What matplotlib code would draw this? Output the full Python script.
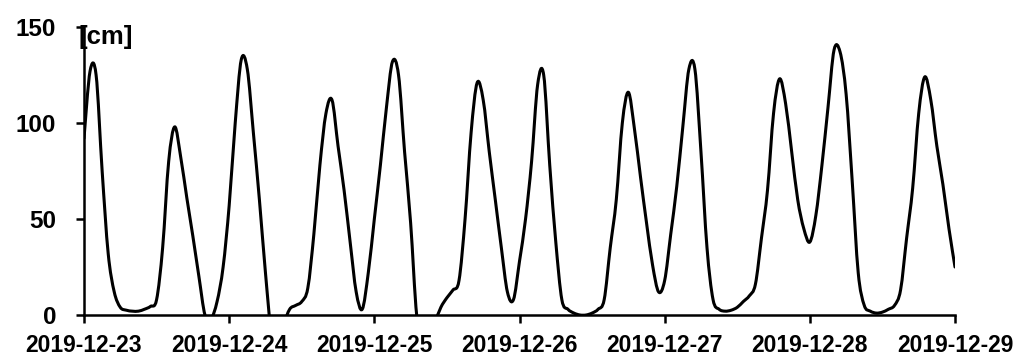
import datetime as dt

import matplotlib
matplotlib.use("Agg")
import matplotlib.dates as mdates
import matplotlib.pyplot as plt
import numpy as np
from matplotlib.patches import PathPatch
from matplotlib.path import Path

# hourly tide level [cm], 2019-12-23 00:00 .. 2019-12-29 00:00
start = dt.datetime(2019, 12, 23)
level_cm = [
    92, 127, 125, 75, 32, 12, 4, 2.5, 2, 2, 3, 4.5,
    8, 35, 80, 98, 82, 61, 41, 20, 0, -2, 7, 25,
    57, 100, 133, 128, 95, 60, 22, -10, -15, -5, 3, 5,
    7, 14, 42, 78, 105, 112, 88, 65, 38, 12, 3, 22,
    50, 78, 108, 132, 125, 85, 48, 0, -12, -12, -4, 4,
    9, 13, 18, 50, 95, 121, 112, 85, 60, 35, 12, 8,
    28, 50, 80, 120, 125, 78, 38, 8, 3, 1, 0, 0,
    1, 3, 8, 35, 60, 100, 116, 97, 72, 48, 26, 12,
    18, 42, 67, 98, 128, 128, 85, 35, 8, 3, 2, 2.5,
    4, 7, 10, 16, 40, 65, 105, 123, 110, 85, 60, 45,
    38, 52, 78, 108, 138, 137, 115, 70, 22, 5, 2, 1,
    1.5, 3, 5, 13, 40, 66, 105, 124, 112, 88, 68, 45,
    25,
]
times = [start + dt.timedelta(hours=h) for h in range(len(level_cm))]
day_ticks = [start + dt.timedelta(days=d) for d in range(7)]
y_ticks = [0, 50, 100, 150]
unit_label = "[cm]"


def smooth_path(x, y):
    """Bezier path through the points (same idea as a spreadsheet 'smoothed line')."""
    x = np.asarray(x, float)
    y = np.asarray(y, float)
    px = np.concatenate([[x[0]], x, [x[-1]]])
    py = np.concatenate([[y[0]], y, [y[-1]]])
    verts = [(x[0], y[0])]
    codes = [Path.MOVETO]
    for i in range(len(x) - 1):
        c1 = (x[i] + (px[i + 2] - px[i]) / 6, y[i] + (py[i + 2] - py[i]) / 6)
        c2 = (x[i + 1] - (px[i + 3] - px[i + 1]) / 6, y[i + 1] - (py[i + 3] - py[i + 1]) / 6)
        verts += [c1, c2, (x[i + 1], y[i + 1])]
        codes += [Path.CURVE4] * 3
    return Path(verts, codes)


plt.rcParams["font.family"] = ["Liberation Sans", "DejaVu Sans"]
plt.rcParams["font.weight"] = "bold"

fig = plt.figure(figsize=(10.19, 3.56), dpi=100)
ax = fig.add_axes([84 / 1019, 41 / 356, 871 / 1019, 288 / 356])

xn = mdates.date2num(times)
ax.add_patch(PathPatch(smooth_path(xn, level_cm), facecolor="none",
                       edgecolor="black", lw=2.2, capstyle="round", joinstyle="round"))

ax.set_xlim(mdates.date2num(day_ticks[0]), mdates.date2num(day_ticks[-1]))
ax.set_ylim(0, 150)
ax.set_xticks(mdates.date2num(day_ticks))
ax.xaxis.set_major_formatter(mdates.DateFormatter("%Y-%m-%d"))
ax.set_yticks(y_ticks)

for side in ("top", "right"):
    ax.spines[side].set_visible(False)
for side in ("left", "bottom"):
    ax.spines[side].set_linewidth(1.8)
ax.tick_params(axis="both", direction="out", length=6, width=1.8)
ax.tick_params(axis="y", pad=14, labelsize=17.5)
ax.tick_params(axis="x", pad=8, labelsize=16.5)
for lab in ax.get_xticklabels() + ax.get_yticklabels():
    lab.set_fontweight("bold")

fig.text(79 / 1019, 1 - 25 / 356, unit_label, ha="left", va="top",
         fontsize=18.5, fontweight="bold")

fig.savefig("out.png", dpi=100)
